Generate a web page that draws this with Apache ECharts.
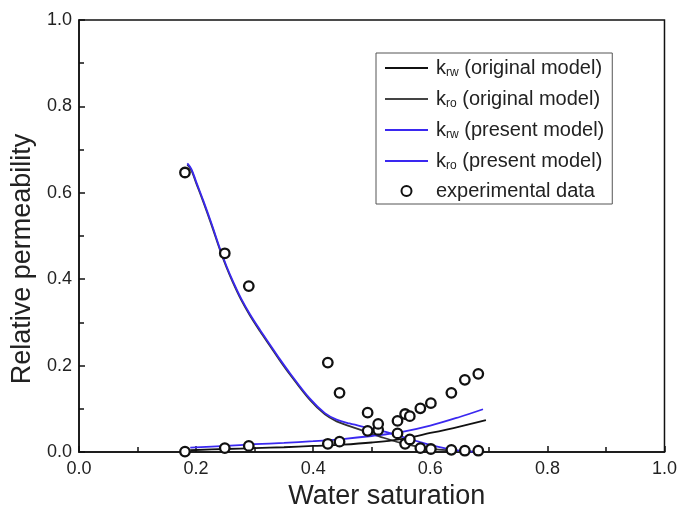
<!DOCTYPE html>
<html>
<head>
<meta charset="utf-8">
<script src="https://cdn.jsdelivr.net/npm/echarts@6/dist/echarts.min.js"></script>
<style>html,body{margin:0;padding:0;background:#fff}#c{width:680px;height:517px}</style>
</head>
<body>
<div id="c"></div>
<script>
// Experimental data (water saturation, kro, krw)
var swExp  = [0.181,0.249,0.290,0.425,0.445,0.493,0.511,0.544,0.557,0.565,0.583,0.601,0.636,0.659,0.682];
var kroExp = [0.647,0.460,0.384,0.207,0.137,0.091,0.051,0.043,0.019,0.029,0.009,0.007,0.005,0.003,0.003];
var krwExp = [0.001,0.009,0.014,0.019,0.024,0.049,0.065,0.072,0.088,0.083,0.101,0.113,0.137,0.167,0.181];

// kro, present model
var kroPresX = [0.185,0.192,0.200,0.212,0.226,0.241,0.252,0.263,0.277,0.292,0.309,0.326,0.343,0.360,0.394,0.420,0.440,0.462,0.490,0.520,0.550,0.580,0.610,0.640,0.670,0.690];
var kroPresY = [0.668,0.655,0.626,0.583,0.530,0.470,0.430,0.395,0.355,0.319,0.283,0.249,0.215,0.183,0.124,0.090,0.075,0.066,0.057,0.048,0.036,0.024,0.013,0.005,0.001,0.000];
// kro, original model
var kroOrigX = [0.185,0.192,0.200,0.212,0.226,0.241,0.252,0.263,0.277,0.292,0.309,0.326,0.343,0.360,0.394,0.420,0.440,0.462,0.490,0.520,0.550,0.580,0.610,0.640,0.670,0.690];
var kroOrigY = [0.665,0.652,0.623,0.580,0.527,0.467,0.427,0.392,0.352,0.316,0.280,0.246,0.212,0.180,0.121,0.087,0.071,0.060,0.047,0.033,0.021,0.012,0.006,0.003,0.001,0.000];
// krw, original model
var krwOrigX = [0.190,0.250,0.300,0.350,0.400,0.450,0.500,0.550,0.600,0.650,0.695];
var krwOrigY = [0.004,0.007,0.009,0.011,0.014,0.017,0.022,0.030,0.044,0.059,0.074];
// krw, present model
var krwPresX = [0.190,0.250,0.300,0.350,0.400,0.450,0.500,0.550,0.600,0.650,0.690];
var krwPresY = [0.010,0.014,0.018,0.021,0.025,0.030,0.037,0.046,0.061,0.081,0.099];

var xTicks = [0, 0.2, 0.4, 0.6, 0.8, 1.0];
var yTicks = [0, 0.2, 0.4, 0.6, 0.8, 1.0];

function pairs(xs, ys){ return xs.map(function(x,i){ return [x, ys[i]]; }); }

var BLUE = '#3a28f0';
var FONT = 'Liberation Sans, Arial, sans-serif';
var chart = echarts.init(document.getElementById('c'), null, {renderer:'canvas'});
var labelFont = {fontFamily:FONT, fontSize:18, color:'#222'};
var lineIcon = 'path://M0,0H43V2H0Z';

var legendNames = {
  'krw_orig': '{k|k}{s|rw}{t| (original model)}',
  'kro_orig': '{k|k}{s|ro}{t| (original model)}',
  'krw_pres': '{k|k}{s|rw}{t| (present model)}',
  'kro_pres': '{k|k}{s|ro}{t| (present model)}',
  'exp': '{e|experimental data}'
};

chart.setOption({
  animation:false,
  backgroundColor:'#fff',
  grid:{left:79, right:15, top:20, bottom:65, show:true, borderColor:'#111', borderWidth:1.5},
  legend:{
    orient:'vertical', left:376, top:53,
    data:[
      {name:'krw_orig', icon:lineIcon, itemStyle:{color:'#111'}},
      {name:'kro_orig', icon:lineIcon, itemStyle:{color:'#444'}},
      {name:'krw_pres', icon:lineIcon, itemStyle:{color:BLUE}},
      {name:'kro_pres', icon:lineIcon, itemStyle:{color:BLUE}},
      {name:'exp', icon:'circle'}
    ],
    itemWidth:43, itemHeight:10, itemGap:9,
    padding:[4,8,3,9],
    borderColor:'#555', borderWidth:1, backgroundColor:'#fff',
    formatter:function(n){ return legendNames[n]; },
    textStyle:{
      fontFamily:FONT, color:'#222',
      rich:{
        k:{fontSize:20, fontFamily:FONT, color:'#222', lineHeight:21, padding:[0,0,0,3]},
        s:{fontSize:12, fontFamily:FONT, color:'#222', padding:[10,0,0,0], lineHeight:21},
        t:{fontSize:20, fontFamily:FONT, color:'#222', lineHeight:21},
        e:{fontSize:20, fontFamily:FONT, color:'#222', lineHeight:21, padding:[0,0,0,3]}
      }
    }
  },
  xAxis:{
    type:'value', min:0, max:1, interval:0.2,
    name:'Water saturation', nameLocation:'middle', nameGap:31,
    nameTextStyle:{fontFamily:FONT, fontSize:27, color:'#222', padding:[0,0,0,30]},
    axisLine:{lineStyle:{color:'#111', width:1.5}},
    axisTick:{inside:true, length:6, lineStyle:{color:'#111', width:1.5}},
    minorTick:{show:true, splitNumber:2, length:5, lineStyle:{color:'#111', width:1.5}},
    splitLine:{show:false},
    axisLabel:Object.assign({margin:8, formatter:function(v){return v.toFixed(1);}}, labelFont)
  },
  yAxis:{
    type:'value', min:0, max:1, interval:0.2,
    name:'Relative permeability', nameLocation:'middle', nameGap:39,
    nameTextStyle:{fontFamily:FONT, fontSize:27, color:'#222', padding:[0,46,0,0]},
    axisLine:{lineStyle:{color:'#111', width:1.5}},
    axisTick:{inside:true, length:6, lineStyle:{color:'#111', width:1.5}},
    minorTick:{show:true, splitNumber:2, length:5, lineStyle:{color:'#111', width:1.5}},
    splitLine:{show:false},
    axisLabel:Object.assign({margin:7, formatter:function(v){return v.toFixed(1);}}, labelFont)
  },
  series:[
    {name:'krw_orig', type:'line', data:pairs(krwOrigX, krwOrigY), smooth:0.35, symbol:'none',
     lineStyle:{color:'#111', width:1.8}, itemStyle:{color:'#111'}, z:3},
    {name:'kro_orig', type:'line', data:pairs(kroOrigX, kroOrigY), smooth:0.35, symbol:'none',
     lineStyle:{color:'#333', width:1.8}, itemStyle:{color:'#333'}, z:2},
    {name:'krw_pres', type:'line', data:pairs(krwPresX, krwPresY), smooth:0.35, symbol:'none',
     lineStyle:{color:BLUE, width:1.8}, itemStyle:{color:BLUE}, z:2},
    {name:'kro_pres', type:'line', data:pairs(kroPresX, kroPresY), smooth:0.35, symbol:'none',
     lineStyle:{color:BLUE, width:1.8}, itemStyle:{color:BLUE}, z:3},
    {name:'exp', type:'scatter', symbol:'circle', symbolSize:9.5,
     data:pairs(swExp, kroExp).concat(pairs(swExp, krwExp)),
     itemStyle:{color:'#fff', borderColor:'#111', borderWidth:2.3, opacity:1}, z:5}
  ]
});
</script>
</body>
</html>
